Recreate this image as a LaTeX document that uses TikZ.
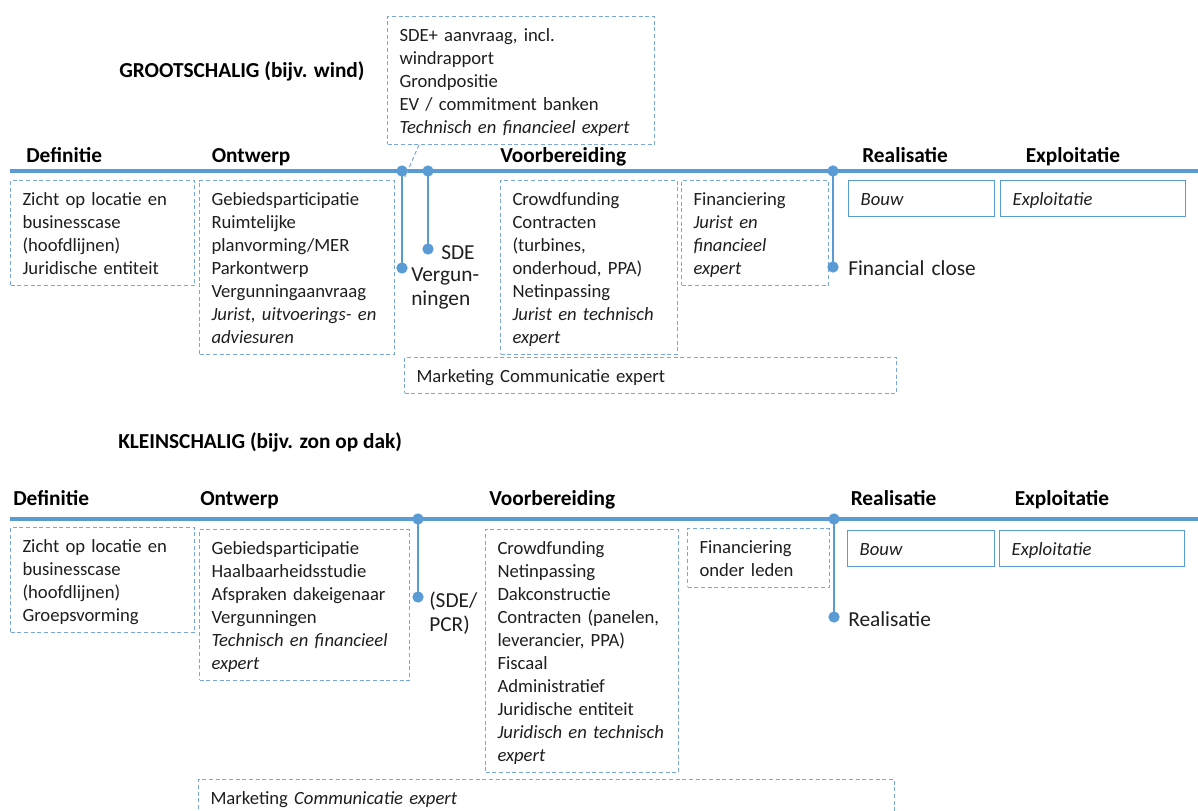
\documentclass[tikz,border=0pt]{standalone}
\usepackage{fontspec}
\setmainfont{Carlito}
\usepackage{tikz}
\usetikzlibrary{
    positioning,
    calc,
}

\definecolor{lineblue}{RGB}{91,155,213}
\definecolor{boxblue}{RGB}{120,168,218}
\definecolor{txtgray}{RGB}{30,30,30}

\newcommand{\bodyfont}{\fontsize{14}{17.25}\selectfont}
\newcommand{\headfont}{\fontsize{16}{19.5}\selectfont\bfseries}
\newcommand{\labelfont}{\fontsize{16}{18.4}\selectfont}
\newcommand{\boxtop}{\rule{0pt}{13.7pt}}
\newcommand{\boxbot}{\rule[-3.2pt]{0pt}{3.2pt}}

\begin{document}
\begin{tikzpicture}[
    x=0.75pt, y=-0.75pt,
    title/.style={font=\headfont, anchor=base west, inner sep=0pt},
    phase/.style={font=\headfont, anchor=base west, inner sep=0pt},
    task/.style={draw=boxblue, dash pattern=on 3pt off 2pt, line width=0.75pt,
                anchor=north west, align=left, inner xsep=9pt, inner ysep=5pt,
                font=\bodyfont, text=txtgray, text width=#1,
                execute at begin node=\boxtop, execute at end node=\boxbot},
    stage/.style={task=#1, solid, draw=lineblue, line width=1pt, font=\bodyfont\itshape},
    callout/.style={draw=boxblue, line width=0.75pt, dash pattern=on 3pt off 2pt},
    timeline/.style={draw=lineblue, line width=2.5pt},
    milestone/.style={draw=lineblue, line width=2pt},
    mdot/.style={circle, fill=lineblue, inner sep=0pt, minimum size=8.5pt},
    mlabel/.style={font=\labelfont, text=txtgray, anchor=base west, align=left,
                inner sep=0pt, text width=5cm},
]

\useasboundingbox (0,0) rectangle (1198,810);
\clip (0,0) rectangle (1198,810);

% ---- grootschalig ----
\node[title] at (119,77.7) (gtitle) {GROOTSCHALIG (bijv. wind)};

\coordinate (gstart) at (10,171);
\coordinate (gend) at (1198,171);
\draw[timeline] (gstart) -- (gend);

\node[phase] at (26,162.5) (gdef) {Definitie};
\node[phase] at (211.5,162) (gont) {Ontwerp};
\node[phase] at (500,162) (gvoor) {Voorbereiding};
\node[phase] at (862,162) (grea) {Realisatie};
\node[phase] at (1025.5,162) (gexp) {Exploitatie};

\node[task=120pt] at (10,180) (gdefbox) {Zicht op locatie en\\ businesscase\\ (hoofdlijnen)\\ Juridische entiteit};
\node[task=128.25pt] at (199,180) (gontbox) {Gebiedsparticipatie\\ Ruimtelijke\\ planvorming/MER\\ Parkontwerp\\ Vergunningaanvraag\\ \textit{Jurist, uitvoerings- en}\\ \textit{adviesuren}};
\node[task=182.25pt] at (387,16) (gsdebox) {SDE+ aanvraag, incl.\\ windrapport\\ Grondpositie\\ EV / commitment banken\\ \textit{Technisch en financieel expert}};
\node[task=114.75pt] at (500,180) (gvoorbox) {Crowdfunding\\ Contracten\\ (turbines,\\ onderhoud, PPA)\\ Netinpassing\\ \textit{Jurist en technisch}\\ \textit{expert}};
\node[task=92.25pt] at (681,180) (gfinbox) {Financiering\\ \textit{Jurist en}\\ \textit{financieel}\\ \textit{expert}};
\node[stage=91.5pt] at (848,180) (gbouw) {Bouw};
\node[stage=120.75pt] at (1000,180) (gexpl) {Exploitatie};
\node[task=351pt] at (404,357) (gmark) {Marketing Communicatie expert};

% milestones
\node[mdot] at (402,171) (gvg) {};
\node[mdot] at (402,268) (gvgend) {};
\node[mdot] at (428,171) (gsde) {};
\node[mdot] at (428,249) (gsdeend) {};
\node[mdot] at (833,171) (gfc) {};
\node[mdot] at (833,267) (gfcend) {};
\draw[milestone] (gvg.center) -- (gvgend.center);
\draw[milestone] (gsde.center) -- (gsdeend.center);
\draw[milestone] (gfc.center) -- (gfcend.center);

\node[mlabel] at (441,259) (gsdelabel) {SDE};
\node[mlabel] at (411,281) (gvglabel) {Vergun-\\ningen};
\node[mlabel] at (848,275) (gfclabel) {Financial close};

\coordinate (gcall) at (405,177);
\draw[callout] ($(gsdebox.south west)+(32,0)$) -- (gcall);

% ---- kleinschalig ----
\node[title] at (118,448) (ktitle) {KLEINSCHALIG (bijv. zon op dak)};

\coordinate (kstart) at (10,519);
\coordinate (kend) at (1198,519);
\draw[timeline] (kstart) -- (kend);

\node[phase] at (13,505.5) (kdef) {Definitie};
\node[phase] at (200,505.5) (kont) {Ontwerp};
\node[phase] at (489,505.5) (kvoor) {Voorbereiding};
\node[phase] at (850.5,505.5) (krea) {Realisatie};
\node[phase] at (1014.5,505.5) (kexp) {Exploitatie};

\node[task=120pt] at (10,527) (kdefbox) {Zicht op locatie en\\ businesscase\\ (hoofdlijnen)\\ Groepsvorming};
\node[task=139.5pt] at (199,529) (kontbox) {Gebiedsparticipatie\\ Haalbaarheidsstudie\\ Afspraken dakeigenaar\\ Vergunningen\\ \textit{Technisch en financieel}\\ \textit{expert}};
\node[task=126.75pt] at (485,529) (kvoorbox) {Crowdfunding\\ Netinpassing\\ Dakconstructie\\ Contracten (panelen,\\ leverancier, PPA)\\ Fiscaal\\ Administratief\\ Juridische entiteit\\ \textit{Juridisch en technisch}\\ \textit{expert}};
\node[task=88.5pt] at (687,528) (kfinbox) {Financiering\\ onder leden};
\node[stage=92.25pt] at (847,530) (kbouw) {Bouw};
\node[stage=120.75pt] at (999,530) (kexpl) {Exploitatie};
\node[task=504pt] at (198,779) (kmark) {Marketing \textit{Communicatie expert}};

% milestones
\node[mdot] at (418,519) (kpcr) {};
\node[mdot] at (418,597) (kpcrend) {};
\node[mdot] at (834,519) (krz) {};
\node[mdot] at (834,617) (krzend) {};
\draw[milestone] (kpcr.center) -- (kpcrend.center);
\draw[milestone] (krz.center) -- (krzend.center);

\node[mlabel] at (429,607) (kpcrlabel) {(SDE/\\PCR)};
\node[mlabel] at (848,626.5) (krzlabel) {Realisatie};

\end{tikzpicture}
\end{document}
